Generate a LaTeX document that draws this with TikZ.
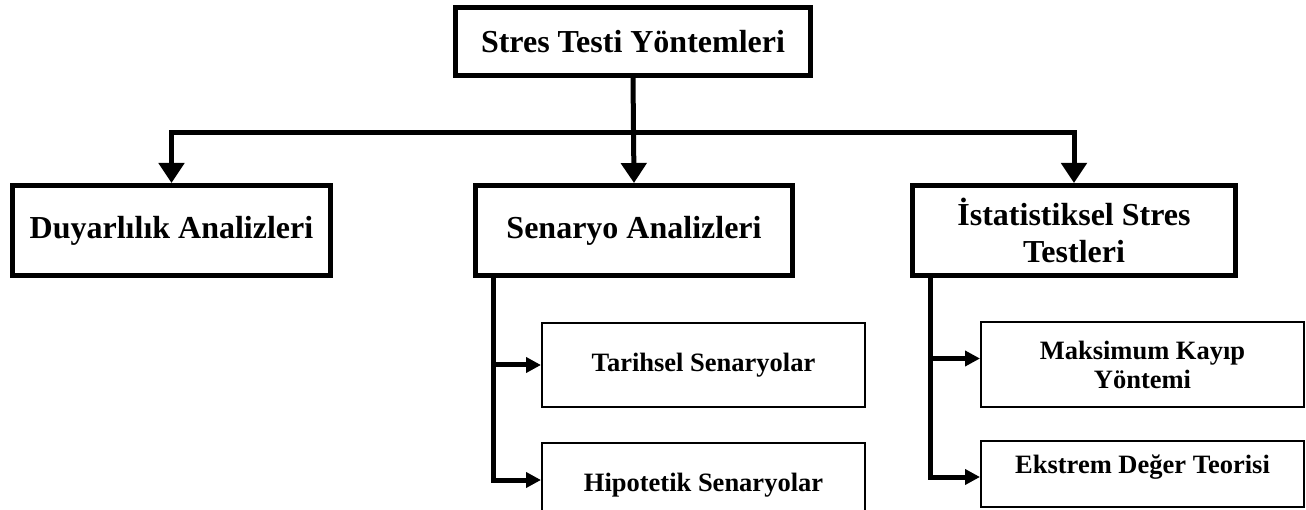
\documentclass[tikz,border=0pt]{standalone}
\usepackage{fontspec}
\setmainfont{Liberation Serif}
\usetikzlibrary{arrows.meta,calc}

\tikzset{
	mainbox/.style={draw, line width=5pt, inner sep=0pt, minimum height=90pt, align=center, font=\bfseries\fontsize{32}{37}\selectfont},
	subbox/.style={draw, line width=2pt, inner sep=0pt, minimum width=323pt, minimum height=84pt, align=center, font=\bfseries\fontsize{26.5}{29}\selectfont},
	trunk/.style={line width=5pt, -{Triangle[length=20pt,width=25pt]}},
	branch/.style={line width=5pt, -{Triangle[length=15pt,width=15pt]}},
}

\begin{document}
\begin{tikzpicture}[x=1pt, y=-1pt]

	\useasboundingbox (0,0) rectangle (1306,510);

	% ust kutu
	\node[mainbox, minimum width=355pt, minimum height=68pt] (top) at (633,41.5) {Stres Testi Yöntemleri};

	% ana yontemler
	\node[mainbox, minimum width=318pt] (sens) at (171.5,230.5) {Duyarlılık Analizleri};
	\node[mainbox, minimum width=317pt] (scen) at (634,230.5) {Senaryo Analizleri};
	\node[mainbox, minimum width=323pt] (stat) at (1074,230.5) {İstatistiksel Stres\\Testleri};

	% alt yontemler
	\node[subbox] (hist) at (703.5,365) {Tarihsel Senaryolar};
	\node[subbox] (hypo) at (703.5,485) {Hipotetik Senaryolar};
	\node[subbox] (maxl) at (1142.5,364.5) {Maksimum Kayıp\\Yöntemi};
	\node[subbox, minimum height=66pt, text depth=20pt] (evt) at (1142.5,474) {Ekstrem Değer Teorisi};

	\coordinate (bus) at (633,133);
	\coordinate (scenleg) at ($(scen.south west)+(20,0)$);
	\coordinate (statleg) at ($(stat.south west)+(20,0)$);

	\draw[trunk] (top.south) -- (scen.north);
	\draw[trunk] (bus) -| (sens.north);
	\draw[trunk] (bus) -| (stat.north);

	\draw[branch] (scenleg) |- (hist.west);
	\draw[branch] (scenleg) |- ([yshift=5pt]hypo.west);
	\draw[branch] (statleg) |- ([yshift=6pt]maxl.west);
	\draw[branch] (statleg) |- ([yshift=-3pt]evt.west);

\end{tikzpicture}
\end{document}
